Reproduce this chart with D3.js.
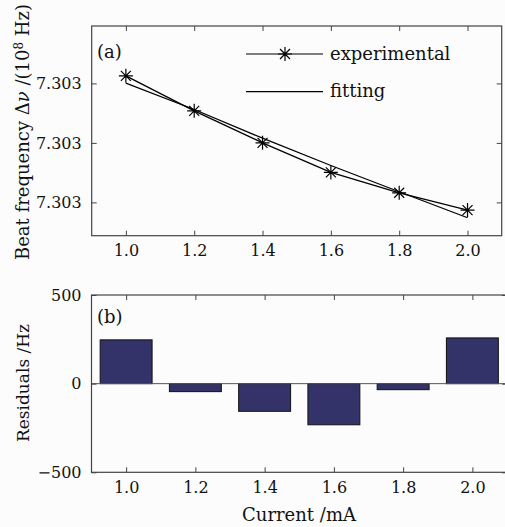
<!DOCTYPE html>
<html>
<head>
    <script src="https://cdn.jsdelivr.net/npm/d3@7"></script>
    <style>
        body { margin: 0; background: #fcfcfc; }
        #my-svg { width: 505px; height: 527px; display: block; }
        text { font-family: "DejaVu Serif", serif; fill: #111; }
    </style>
</head>
<body>

    <svg id="my-svg"></svg>

<script type="module">
    // currents (mA)
    const currents = [1.0, 1.2, 1.4, 1.6, 1.8, 2.0];
    // beat frequency, in units of 10^8 Hz
    const experimental = [7.30304254, 7.30303078, 7.30302003, 7.30301008, 7.30300323, 7.30299741];
    const fitting = [7.30304007, 7.30303123, 7.30302159, 7.30301240, 7.30300357, 7.30299483];
    // residuals (Hz)
    const residuals = [247, -45, -156, -232, -34, 258];
    const xTicks = [1.0, 1.2, 1.4, 1.6, 1.8, 2.0];
    const yTicksTop = [7.30300, 7.30302, 7.30304];
    const yTicksBottom = [-500, 0, 500];

    let svg = d3.select("#my-svg");
    const axisColor = "#444";

    // star marker (MATLAB-like asterisk)
    function star(cx, cy) {
        let r = 7, d = 5;
        return `M${cx - r},${cy}H${cx + r}M${cx},${cy - r}V${cy + r}` +
            `M${cx - d},${cy - d}L${cx + d},${cy + d}M${cx - d},${cy + d}L${cx + d},${cy - d}`;
    }

    function frame(g, x, y, yTicks, yFormat) {
        let [x0, x1] = x.range();
        let [y1, y0] = y.range();
        let fmtX = d3.format(".1f");

        let bottom = g.append("g").attr("transform", `translate(0,${y1})`)
            .call(d3.axisBottom(x).tickValues(xTicks).tickFormat(fmtX).tickSize(-5).tickPadding(9));
        let top = g.append("g").attr("transform", `translate(0,${y0})`)
            .call(d3.axisTop(x).tickValues(xTicks).tickFormat("").tickSize(-5));
        let left = g.append("g").attr("transform", `translate(${x0},0)`)
            .call(d3.axisLeft(y).tickValues(yTicks).tickFormat(yFormat).tickSize(-5).tickPadding(10));
        let right = g.append("g").attr("transform", `translate(${x1},0)`)
            .call(d3.axisRight(y).tickValues(yTicks).tickFormat("").tickSize(-5));

        [bottom, top, left, right].forEach(a => {
            a.select(".domain").remove();
            a.selectAll("line").attr("stroke", axisColor);
            a.selectAll("text").style("font-family", "DejaVu Serif").style("font-size", "16px").attr("fill", "#111");
        });

        g.append("rect")
            .attr("x", x0).attr("y", y0)
            .attr("width", x1 - x0).attr("height", y1 - y0)
            .attr("fill", "none").attr("stroke", axisColor).attr("stroke-width", 1.2);
    }

    // ---- panel (a)
    let xa = d3.scaleLinear().domain([0.9, 2.1]).range([91.7, 501.7]);
    let ya = d3.scaleLinear().domain([7.3029888, 7.3030593]).range([235.7, 26]);
    let ga = svg.append("g");

    let line = d3.line().x(d => xa(d[0])).y(d => ya(d[1]));

    ga.append("path")
        .attr("d", line(d3.zip(currents, fitting)))
        .attr("fill", "none").attr("stroke", "#000").attr("stroke-width", 1.3);

    ga.append("path")
        .attr("d", line(d3.zip(currents, experimental)))
        .attr("fill", "none").attr("stroke", "#000").attr("stroke-width", 1.3);

    ga.append("g").selectAll("path")
        .data(d3.zip(currents, experimental))
        .join("path")
        .attr("d", d => star(xa(d[0]), ya(d[1])))
        .attr("stroke", "#000").attr("stroke-width", 1.2);

    frame(ga, xa, ya, yTicksTop, d3.format(".3f"));

    ga.append("text").attr("x", 97).attr("y", 58).style("font-size", "18px").text("(a)");

    // legend
    ga.append("line").attr("x1", 246).attr("x2", 323).attr("y1", 54).attr("y2", 54)
        .attr("stroke", "#000").attr("stroke-width", 1.2);
    ga.append("path").attr("d", star(285, 54)).attr("stroke", "#000").attr("stroke-width", 1.2);
    ga.append("text").attr("x", 330).attr("y", 60).style("font-size", "18px").text("experimental");
    ga.append("line").attr("x1", 246).attr("x2", 323).attr("y1", 91.7).attr("y2", 91.7)
        .attr("stroke", "#000").attr("stroke-width", 1.2);
    ga.append("text").attr("x", 330).attr("y", 97).style("font-size", "18px").text("fitting");

    let yl = ga.append("text")
        .attr("transform", `translate(29,132) rotate(-90)`)
        .attr("text-anchor", "middle")
        .style("font-size", "18px");
    yl.append("tspan").text("Beat frequency \u0394");
    yl.append("tspan").style("font-style", "italic").text("\u03bd");
    yl.append("tspan").text(" /(10");
    yl.append("tspan").attr("dy", -6).style("font-size", "12px").text("8");
    yl.append("tspan").attr("dy", 6).text(" Hz)");

    // ---- panel (b)
    let xb = d3.scaleLinear().domain([0.9, 2.1]).range([91.5, 507]);
    let yb = d3.scaleLinear().domain([-500, 500]).range([472.3, 295]);
    let gb = svg.append("g");
    const barW = 0.15;

    gb.append("g").selectAll("rect")
        .data(d3.zip(currents, residuals))
        .join("rect")
        .attr("x", d => xb(d[0] - barW / 2))
        .attr("width", xb(barW) - xb(0))
        .attr("y", d => yb(Math.max(0, d[1])))
        .attr("height", d => Math.abs(yb(d[1]) - yb(0)))
        .attr("fill", "#33336a").attr("stroke", "#111").attr("stroke-width", 1);

    gb.append("line")
        .attr("x1", xb.range()[0]).attr("x2", xb.range()[1])
        .attr("y1", yb(0)).attr("y2", yb(0))
        .attr("stroke", "#555").attr("stroke-width", 1);

    frame(gb, xb, yb, yTicksBottom, d => d < 0 ? "\u2212" + Math.abs(d) : d);

    gb.append("text").attr("x", 97).attr("y", 323).style("font-size", "18px").text("(b)");

    gb.append("text")
        .attr("transform", `translate(29,383) rotate(-90)`)
        .attr("text-anchor", "middle")
        .style("font-size", "17px")
        .text("Residuals /Hz");

    gb.append("text")
        .attr("x", 299).attr("y", 521)
        .attr("text-anchor", "middle")
        .style("font-size", "18px")
        .text("Current /mA");
</script>
</body>
</html>
